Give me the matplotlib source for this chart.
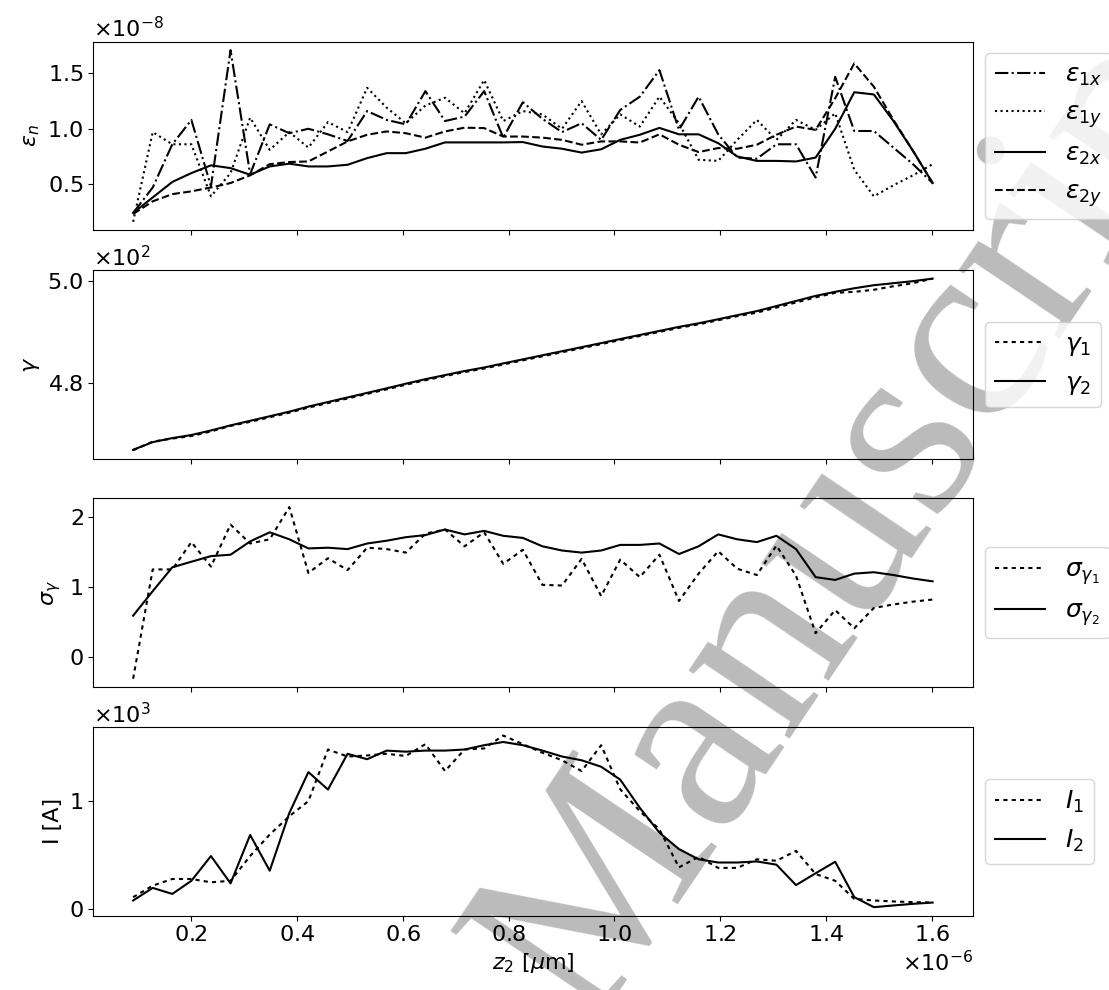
import numpy as np
import matplotlib.pyplot as plt
from matplotlib.ticker import MultipleLocator

# z positions (m)
z = [0.091, 0.128, 0.165, 0.201, 0.238, 0.275, 0.312, 0.349, 0.386, 0.422,
     0.459, 0.496, 0.533, 0.570, 0.606, 0.643, 0.680, 0.717, 0.754, 0.790,
     0.827, 0.864, 0.901, 0.938, 0.975, 1.011, 1.048, 1.085, 1.122, 1.159,
     1.196, 1.232, 1.269, 1.306, 1.343, 1.380, 1.417, 1.453, 1.490, 1.527,
     1.564, 1.601]
z = np.array(z) * 1e-6

# normalised emittances (x 1e-8)
eps_1x = [0.24, 0.47, 0.86, 1.08, 0.48, 1.71, 0.59, 1.04, 0.96, 1.00,
          0.95, 0.89, 1.16, 1.08, 1.04, 1.34, 1.07, 1.11, 1.34, 0.92,
          1.24, 1.09, 0.97, 1.05, 0.90, 1.17, 1.29, 1.53, 0.99, 1.29,
          0.95, 0.74, 0.73, 0.86, 0.86, 0.56, 1.47, 0.98, 0.98, 0.83,
          0.68, 0.51]
eps_1y = [0.16, 0.97, 0.86, 0.86, 0.39, 0.60, 1.10, 0.81, 0.97, 0.83,
          1.06, 0.97, 1.37, 1.19, 1.05, 1.21, 1.28, 1.14, 1.44, 1.07,
          1.16, 1.13, 1.00, 1.25, 0.95, 1.13, 1.02, 1.29, 1.05, 0.72,
          0.71, 0.90, 1.08, 0.90, 1.08, 0.99, 1.14, 0.63, 0.39, 0.49,
          0.58, 0.68]
eps_2x = [0.24, 0.38, 0.52, 0.60, 0.67, 0.645, 0.585, 0.66, 0.685, 0.66,
          0.66, 0.675, 0.735, 0.78, 0.78, 0.82, 0.877, 0.877, 0.877, 0.877,
          0.88, 0.84, 0.82, 0.785, 0.815, 0.90, 0.946, 1.008, 0.95, 0.95,
          0.87, 0.75, 0.71, 0.71, 0.705, 0.74, 1.00, 1.33, 1.31, 1.07,
          0.80, 0.51]
eps_2y = [0.23, 0.345, 0.41, 0.435, 0.47, 0.51, 0.58, 0.68, 0.70, 0.705,
          0.795, 0.886, 0.946, 0.976, 0.96, 0.92, 0.976, 1.01, 1.006, 0.93,
          0.93, 0.92, 0.90, 0.856, 0.886, 0.886, 0.876, 0.95, 0.856, 0.79,
          0.826, 0.82, 0.856, 0.946, 1.02, 0.99, 1.276, 1.59, 1.38, 1.08,
          0.80, 0.51]

# Lorentz factor
gamma_2 = [466.8, 468.3, 469.1, 469.7, 470.6, 471.6, 472.5, 473.4, 474.3, 475.3,
           476.2, 477.1, 478.0, 478.9, 479.8, 480.7, 481.5, 482.3, 483.0, 483.8,
           484.6, 485.4, 486.2, 487.0, 487.8, 488.6, 489.4, 490.2, 491.0, 491.7,
           492.5, 493.3, 494.1, 495.1, 496.1, 497.1, 497.9, 498.6, 499.2, 499.6,
           500.0, 500.5]
gamma_1 = [466.7, 468.4, 469.0, 469.5, 470.4, 471.5, 472.3, 473.2, 474.1, 475.1,
           476.0, 476.9, 477.8, 478.7, 479.6, 480.5, 481.3, 482.1, 482.8, 483.6,
           484.4, 485.2, 486.0, 486.8, 487.6, 488.4, 489.2, 490.0, 490.8, 491.5,
           492.3, 493.1, 493.8, 494.8, 495.8, 496.8, 497.7, 497.9, 498.3, 499.0,
           499.6, 500.5]

# energy spread
sigma_1 = [-0.31, 1.25, 1.25, 1.64, 1.29, 1.89, 1.62, 1.68, 2.14, 1.20,
           1.41, 1.24, 1.56, 1.54, 1.49, 1.76, 1.82, 1.58, 1.78, 1.33,
           1.53, 1.03, 1.02, 1.40, 0.87, 1.39, 1.14, 1.46, 0.80, 1.19,
           1.51, 1.26, 1.17, 1.59, 1.16, 0.34, 0.67, 0.41, 0.70, 0.75,
           0.79, 0.82]
sigma_2 = [0.59, 0.94, 1.28, 1.36, 1.44, 1.46, 1.65, 1.78, 1.68, 1.55,
           1.56, 1.54, 1.62, 1.66, 1.71, 1.74, 1.82, 1.75, 1.80, 1.73,
           1.70, 1.58, 1.52, 1.49, 1.52, 1.60, 1.60, 1.62, 1.47, 1.58,
           1.75, 1.68, 1.64, 1.73, 1.54, 1.14, 1.10, 1.19, 1.21, 1.17,
           1.12, 1.08]

# current (A)
current_1 = [108, 215, 277, 277, 246, 260, 490, 690, 860, 1000,
             1480, 1415, 1425, 1440, 1420, 1530, 1280, 1480, 1490, 1610,
             1530, 1450, 1380, 1280, 1520, 1110, 907, 738, 385, 483,
             380, 380, 460, 446, 538, 323, 260, 92, 77, 68,
             62, 58]
current_2 = [77, 194, 138, 260, 490, 236, 686, 354, 890, 1270,
             1108, 1440, 1390, 1470, 1460, 1470, 1470, 1480, 1520, 1550,
             1520, 1470, 1415, 1380, 1320, 1200, 938, 707, 554, 460,
             430, 430, 440, 410, 220, 330, 437, 108, 15, 31,
             46, 58]

plt.rcParams['font.size'] = 16

fig, axes = plt.subplots(4, 1, sharex=True, figsize=(11.09, 9.9), dpi=100)
plt.subplots_adjust(left=0.084, right=0.877, top=0.958, bottom=0.075, hspace=0.21)

ax1, ax2, ax3, ax4 = axes

ax1.plot(z, np.array(eps_1x) * 1e-8, 'k-.', label=r'$\varepsilon_{1x}$')
ax1.plot(z, np.array(eps_1y) * 1e-8, 'k:', label=r'$\varepsilon_{1y}$')
ax1.plot(z, np.array(eps_2x) * 1e-8, 'k-', label=r'$\varepsilon_{2x}$')
ax1.plot(z, np.array(eps_2y) * 1e-8, 'k--', label=r'$\varepsilon_{2y}$')
ax1.set_ylabel(r'$\varepsilon_n$')
ax1.yaxis.set_major_locator(MultipleLocator(0.5e-8))

ax2.plot(z, gamma_1, 'k', linestyle=(0, (2, 2)), label=r'$\gamma_1$')
ax2.plot(z, gamma_2, 'k-', label=r'$\gamma_2$')
ax2.set_ylabel(r'$\gamma$')
ax2.yaxis.set_major_locator(MultipleLocator(20))

ax3.plot(z, sigma_1, 'k', linestyle=(0, (2, 2)), label=r'$\sigma_{\gamma_1}$')
ax3.plot(z, sigma_2, 'k-', label=r'$\sigma_{\gamma_2}$')
ax3.set_ylabel(r'$\sigma_\gamma$')
ax3.yaxis.set_major_locator(MultipleLocator(1))

ax4.plot(z, current_1, 'k', linestyle=(0, (2, 2)), label=r'$I_1$')
ax4.plot(z, current_2, 'k-', label=r'$I_2$')
ax4.set_ylabel('I [A]')
ax4.set_xlabel(r'$z_2$ [$\mu$m]')
ax4.yaxis.set_major_locator(MultipleLocator(1000))

for ax in axes:
    ax.ticklabel_format(style='sci', scilimits=(0, 0), useMathText=True)
    ax.legend(loc='center left', bbox_to_anchor=(1.0, 0.5), fontsize=18)
    ax.patch.set_alpha(0)

# watermark from the source document
fig.text(0.785, 0.50, 'Manuscript', family='Liberation Serif', fontsize=190,
         color='#bbbbbb', rotation=56, ha='center', va='center', zorder=-1)

plt.savefig('out.png')
